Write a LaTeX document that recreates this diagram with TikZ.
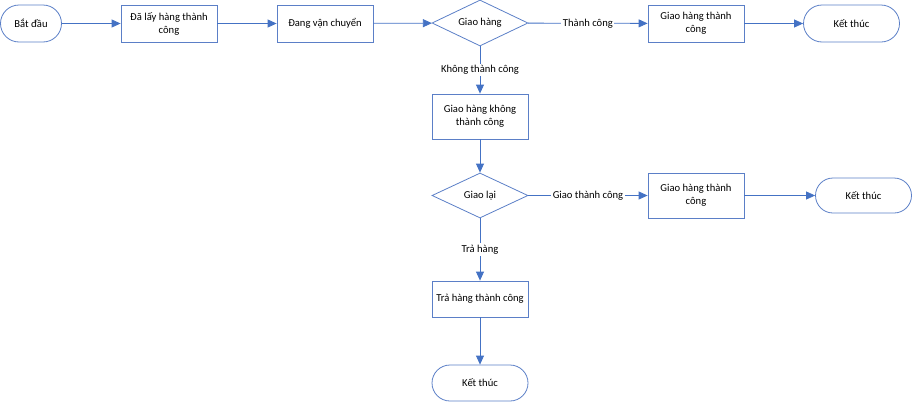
\documentclass[tikz,border=0pt]{standalone}
\usepackage{fontspec}
\setmainfont{Carlito}
\usetikzlibrary{arrows.meta,shapes.geometric,shapes.misc}
\definecolor{lineblue}{HTML}{4472C4}
\definecolor{boxblue}{HTML}{5B7FC7}
\tikzset{
  base/.style={draw=boxblue, line width=0.8pt, font=\fontsize{10.6}{13}\selectfont, text=black, align=center, inner sep=0pt},
  term/.style={base, rounded rectangle, minimum width=96pt, minimum height=37pt},
  proc/.style={base, rectangle, minimum width=96pt, minimum height=37pt},
  decide/.style={base, diamond, shape aspect=2.1, minimum width=96pt, minimum height=46pt},
  conn/.style={draw=lineblue, line width=0.8pt, -{Triangle[length=9pt,width=8pt]}},
  lbl/.style={fill=white, font=\fontsize{10.6}{12}\selectfont, text=black, inner sep=1.5pt}
}
\begin{document}
\begin{tikzpicture}[x=1pt,y=-1pt]
\useasboundingbox (0,0) rectangle (913,402);
\node[term, minimum width=61pt] (start) at (31,23.5) {Bắt đầu};
\node[proc] (b1) at (169,23.5) {Đã lấy hàng thành\\công};
\node[proc] (b2) at (325,23.5) {Đang vận chuyển};
\node[decide] (d1) at (480,23) {Giao hàng};
\node[proc] (b3) at (696,23.5) {Giao hàng thành\\công};
\node[term] (e1) at (851.5,23.5) {Kết thúc};
\node[proc, minimum height=45pt] (b4) at (480,116.5) {Giao hàng không\\thành công};
\node[decide, minimum height=45pt] (d2) at (480,195.5) {Giao lại};
\node[proc, minimum height=45pt] (b5) at (696,195.5) {Giao hàng thành\\công};
\node[term, minimum height=35pt] (e2) at (863.5,195.5) {Kết thúc};
\node[proc, minimum height=36pt] (b6) at (480,299) {Trả hàng thành công};
\node[term, minimum height=36pt] (e3) at (480,383) {Kết thúc};

\draw[conn] (start) -- (b1);
\draw[conn] (b1) -- (b2);
\draw[conn] (b2) -- (d1);
\draw[conn] (d1) -- node[lbl] {Thành công} (b3);
\draw[conn] (b3) -- (e1);
\draw[conn] (d1) -- node[lbl] {Không thành công} (b4);
\draw[conn] (b4) -- (d2);
\draw[conn] (d2) -- node[lbl] {Giao thành công} (b5);
\draw[conn] (b5) -- (e2);
\draw[conn] (d2) -- node[lbl] {Trả hàng} (b6);
\draw[conn] (b6) -- (e3);
\end{tikzpicture}
\end{document}
